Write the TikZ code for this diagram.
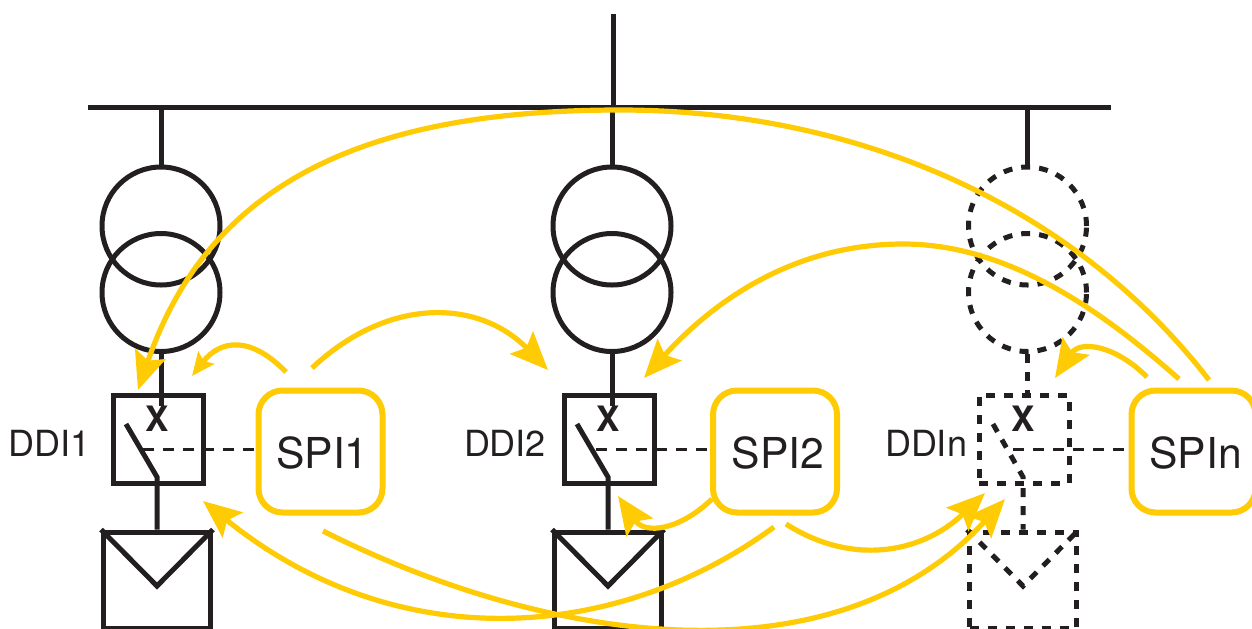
\documentclass[tikz,border=0pt]{standalone}
\usepackage{fontspec}
\setmainfont{TeX Gyre Heros}
\usetikzlibrary{arrows.meta}
\definecolor{ink}{HTML}{231F20}
\definecolor{sig}{HTML}{FFCB05}
\tikzstyle{wire} = [draw=ink, line width=2.5pt]
\tikzstyle{ghost} = [dash pattern=on 4.5pt off 4.5pt]
\tikzstyle{ctrl} = [draw=ink, line width=1.3pt, dash pattern=on 5.5pt off 4.5pt]
\tikzstyle{trafo} = [circle, wire, minimum size=59pt, inner sep=0pt]
\tikzstyle{ddi} = [rectangle, wire, minimum width=45pt, minimum height=44pt, inner sep=0pt]
\tikzstyle{panel} = [rectangle, wire, minimum width=53.5pt, minimum height=48pt, inner sep=0pt]
\tikzstyle{spi} = [rectangle, rounded corners=12pt, draw=sig, line width=3pt, minimum width=62pt, minimum height=61pt, inner sep=0pt]
\tikzstyle{lbl} = [text=ink, font=\fontsize{18pt}{20pt}\selectfont, inner sep=0pt]
\tikzstyle{spilbl} = [text=ink, font=\fontsize{21.3pt}{24pt}\selectfont, inner sep=0pt]
\tikzstyle{mark x} = [text=ink, font=\fontsize{17.5pt}{20pt}\selectfont\bfseries, inner sep=0pt]
\tikzstyle{sigarrow} = [draw=sig, line width=2.6pt, -{Stealth[length=19pt, width=16pt, inset=3.5pt, fill=sig]}]
\tikzstyle{sigsmall} = [draw=sig, line width=2.6pt, -{Stealth[length=11.5pt, width=10pt, inset=2pt, fill=sig]}]

\begin{document}
\begin{tikzpicture}[x=0.5pt, y=-0.5pt]
        \useasboundingbox (0,0) rectangle (1252,628);
        % bus
        \coordinate (feed) at (613,14);
        \coordinate (busl) at (88,107);
        \coordinate (busr) at (1111,107);
        \coordinate (feedb) at (613,107);
        \coordinate (tap1) at (161,107);
        \coordinate (tap2) at (612,107);
        \coordinate (tap3) at (1027.5,107);
        \draw [wire] (busl) -- (busr);
        \draw [wire] (feed) -- (feedb);

        \node (t1a) [trafo] at (161,226) {};
        \node (t1b) [trafo] at (161,292.5) {};
        \node (t2a) [trafo] at (612,226) {};
        \node (t2b) [trafo] at (612,292.5) {};
        \node (t3a) [trafo, ghost] at (1027.5,226) {};
        \node (t3b) [trafo, ghost] at (1027.5,292.5) {};

        \node (ddi1) [ddi] at (158.5,439) {};
        \node (ddi2) [ddi] at (609.5,439) {};
        \node (ddi3) [ddi, ghost] at (1024,439) {};
        \node (pan1) [panel] at (157,580) {};
        \node (pan2) [panel] at (608,580) {};
        \node (pan3) [panel, ghost] at (1023,580) {};

        \node (spi1) [spi] at (320.5,451.5) {};
        \node (spi2) [spi] at (775,451.5) {};
        \node (spi3) [spi] at (1193.5,451.5) {};

        \node (lab1) [lbl] at (50,443) {DDI1};
        \node (lab2) [lbl] at (505,443) {DDI2};
        \node (lab3) [lbl] at (926,443) {DDIn};
        \node (name1) [spilbl] at (322.5,453) {SPI1};
        \node (name2) [spilbl] at (778,453) {SPI2};
        \node (name3) [spilbl] at (1195.5,453) {SPIn};
        \node (x1) [mark x] at (157,419) {X};
        \node (x2) [mark x] at (608.5,419) {X};
        \node (x3) [mark x] at (1023.5,419) {X};

        % feeders
        \draw [wire] (tap1) -- (t1a.north);
        \draw [wire] (tap2) -- (t2a.north);
        \draw [wire] (tap3) -- (t3a.north);
        \draw [wire] (t1b.south) -- (x1.north -| t1b.south);
        \draw [wire] (t2b.south) -- (x2.north -| t2b.south);
        \draw [wire, ghost] (t3b.south) -- (ddi3.north -| t3b.south);

        % switches
        \coordinate (sw1) at (126,424);
        \coordinate (sw1b) at (157,477);
        \coordinate (sw2) at (577,424);
        \coordinate (sw2b) at (608,477);
        \coordinate (sw3) at (993,424);
        \coordinate (sw3b) at (1023,477);
        \draw [wire] (sw1) -- (sw1b) -- (pan1.north);
        \draw [wire] (sw2) -- (sw2b) -- (pan2.north);
        \draw [wire, ghost] (sw3) -- (sw3b) -- (pan3.north);
        \coordinate (ctl1) at (143,449.5);
        \coordinate (ctl2) at (596,449.5);
        \coordinate (ctl3) at (1013,449.5);
        \draw [ctrl] (ctl1) -- (ctl1 -| spi1.west);
        \draw [ctrl] (ctl2) -- (ctl2 -| spi2.west);
        \draw [ctrl] (ctl3) -- (ctl3 -| spi3.west);

        % panel marks
        \coordinate (v1) at (157,586);
        \coordinate (v2) at (608,586);
        \coordinate (v3) at (1023,586);
        \draw [wire] (pan1.north west) -- (v1) -- (pan1.north east);
        \draw [wire] (pan2.north west) -- (v2) -- (pan2.north east);
        \draw [wire, ghost] (pan3.north west) -- (v3) -- (pan3.north east);

        % signals
        \coordinate (a1s) at (1209,380);
        \coordinate (a1m) at (620,110);
        \coordinate (a1e) at (138,390);
        \draw [sigarrow] (a1s) .. controls (1070,200) and (850,110) .. (a1m)
            .. controls (370,110) and (210,180) .. (a1e);
        \coordinate (a2s) at (1179,379);
        \coordinate (a2m) at (903,244);
        \coordinate (a2e) at (644,378);
        \draw [sigarrow] (a2s) .. controls (1090,300) and (1000,244) .. (a2m)
            .. controls (790,244) and (710,305) .. (a2e);
        \coordinate (a3s) at (1147,377);
        \coordinate (a3e) at (1055,378);
        \draw [sigarrow] (a3s) .. controls (1115,345) and (1080,340) .. (a3e);
        \coordinate (a4s) at (286,372);
        \coordinate (a4e) at (192,376);
        \draw [sigsmall] (a4s) .. controls (250,335) and (220,340) .. (a4e);
        \coordinate (a5s) at (312,368);
        \coordinate (a5e) at (548,370);
        \draw [sigarrow] (a5s) .. controls (390,295) and (480,300) .. (a5e);
        \coordinate (a6s) at (712,499);
        \coordinate (a6e) at (618,496);
        \draw [sigarrow] (a6s) .. controls (680,530) and (645,535) .. (a6e);
        \coordinate (a7s) at (774,527);
        \coordinate (a7e) at (203,501);
        \draw [sigarrow] (a7s) .. controls (620,640) and (400,660) .. (a7e);
        \coordinate (a8s) at (323,531);
        \coordinate (a8e) at (1005,499);
        \draw [sigarrow] (a8s) .. controls (560,650) and (840,680) .. (a8e);
        \coordinate (a9s) at (786,524);
        \coordinate (a9e) at (985,493);
        \draw [sigarrow] (a9s) .. controls (850,565) and (920,555) .. (a9e);
    \end{tikzpicture}
\end{document}
